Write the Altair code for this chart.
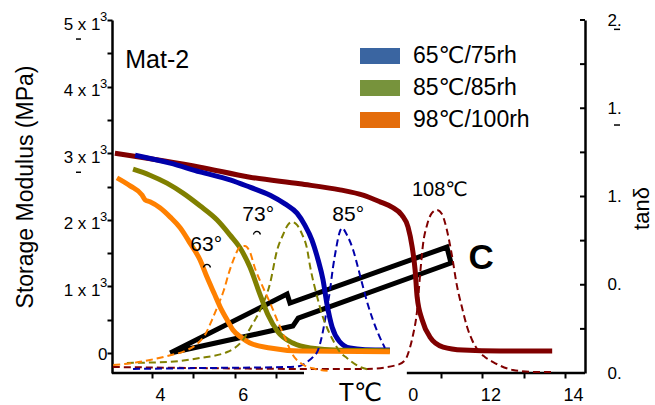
import altair as alt
import pandas as pd

# ---------------- data ----------------
# Storage modulus (MPa) vs temperature (solid curves, left axis)
maroon_T = [31.0, 51.6, 63.7, 75.8, 85.5, 91.1, 95.2, 98.1, 100.5, 102.0, 103.0, 103.7, 104.2, 105.4, 107.3, 110.5, 115.3, 124.3, 136.9]
maroon_E = [3000, 2790, 2640, 2540, 2450, 2370, 2270, 2190, 2070, 1890, 1590, 1250, 840, 500, 240, 90, 45, 30, 30]

blue_T = [35.9, 44.4, 51.6, 58.9, 63.7, 68.6, 72.2, 75.1, 77.0, 78.7, 80.2, 81.4, 82.4, 83.6, 85.5, 87.9, 91.6, 97.6]
blue_E = [2970, 2850, 2720, 2600, 2490, 2370, 2240, 2100, 1920, 1700, 1400, 1100, 720, 390, 165, 75, 50, 45]

olive_T = [35.4, 39.5, 43.6, 47.5, 51.6, 55.7, 58.9, 61.3, 63.7, 66.2, 68.1, 70.5, 74.1, 78.3, 85.5, 97.6]
olive_E = [2760, 2670, 2550, 2400, 2210, 2000, 1770, 1580, 1290, 870, 570, 315, 150, 75, 40, 35]

orange_T = [31.5, 34.7, 37.6, 38.3, 39.5, 41.9, 44.4, 46.8, 49.2, 51.6, 53.3, 55.0, 56.5, 58.2, 59.6, 61.8, 63.7, 68.6, 75.8, 97.6]
orange_E = [2630, 2510, 2370, 2300, 2270, 2180, 2040, 1880, 1650, 1400, 1140, 900, 690, 495, 345, 225, 150, 75, 30, 20]

# tan delta vs temperature (dashed curves, right axis)
orange_dT = [30.6, 35.4, 39.5, 43.6, 48.5, 50.9, 52.8, 54.5, 56.0, 57.4, 58.6, 59.9, 61.3, 62.5, 63.7, 64.9, 66.6, 68.6, 70.5, 72.2, 74.1, 76.3, 79.5, 83.1]
orange_tan = [0.045, 0.057, 0.074, 0.096, 0.130, 0.164, 0.215, 0.300, 0.385, 0.470, 0.567, 0.652, 0.714, 0.720, 0.686, 0.595, 0.499, 0.397, 0.289, 0.198, 0.102, 0.051, 0.023, 0.011]

olive_dT = [33.9, 43.6, 51.6, 58.2, 62.0, 64.2, 66.2, 68.6, 70.3, 71.7, 72.9, 73.9, 75.1, 76.3, 77.5, 78.3, 80.0, 81.2, 82.4, 83.8, 85.5, 87.2, 89.9, 92.8]
olive_tan = [0.057, 0.062, 0.085, 0.119, 0.187, 0.272, 0.357, 0.510, 0.697, 0.782, 0.839, 0.856, 0.839, 0.788, 0.708, 0.601, 0.431, 0.329, 0.255, 0.187, 0.119, 0.085, 0.040, 0.017]

blue_dT = [35.4, 51.6, 72.7, 75.8, 77.5, 79.0, 80.2, 81.2, 82.1, 83.1, 83.8, 84.6, 85.3, 86.0, 87.2, 88.7, 89.9, 91.1, 92.3, 93.5, 94.7, 96.4]
blue_tan = [0.023, 0.028, 0.034, 0.040, 0.062, 0.091, 0.130, 0.215, 0.329, 0.470, 0.595, 0.708, 0.788, 0.822, 0.782, 0.697, 0.595, 0.487, 0.385, 0.300, 0.227, 0.142]

maroon_dT = [30.5, 51.6, 75.8, 92.1, 99.3, 101.3, 102.5, 103.2, 104.2, 104.9, 105.6, 106.6, 107.8, 109.0, 110.2, 111.4, 112.6, 113.8, 115.1, 116.3, 117.5, 118.9, 120.6, 122.6, 127.4, 132.3, 137.1]
maroon_tan = [0.034, 0.028, 0.023, 0.023, 0.045, 0.074, 0.147, 0.215, 0.357, 0.555, 0.725, 0.839, 0.907, 0.924, 0.901, 0.810, 0.669, 0.499, 0.368, 0.261, 0.187, 0.130, 0.091, 0.062, 0.017, 0.006, 0.006]

# hollow "lightning" arrow outline (temperature, modulus units)
arrow_T = [44.4, 72.7, 73.4, 111.4, 112.4, 75.4, 74.1, 44.4]
arrow_E = [0, 886, 751, 1591, 1351, 525, 405, 0]

# legend
legend_labels = ["65℃/75rh", "85℃/85rh", "98℃/100rh"]

# peak labels
peak_texts = ["63°", "73°", "85°"]
peak_T = [53.1, 65.7, 87.5]
peak_E = [1622, 2072, 2072]

# axis ticks
x_tick_values = [40, 50, 60, 70, 100, 110, 120, 130, 140]
x_tick_labels = ["4", "", "6", "", "0", "", "12", "", "14"]
left_tick_values = [0, 500, 1000, 1500, 2000, 2500, 3000, 3500, 4000, 4500, 5000]
sup_values = [1000, 2000, 3000, 4000, 5000]
right_tick_values = [0, 0.25, 0.5, 0.75, 1.0, 1.25, 1.5, 1.75, 2.0]
right_label_values = [0, 0.5, 1.0, 1.5, 2.0]
x_segments = [(30.3, 76.8), (101.7, 144.85)]

# ---------------- styling ----------------
FONT = "Liberation Sans, Arial, Helvetica, DejaVu Sans, sans-serif"
W, H = 473, 353
MAROON, BLUE, OLIVE, ORANGE = "#800000", "#0000aa", "#808000", "#ff8000"
LEG_COLORS = ["#3a65a1", "#77933c", "#e46c0a"]

xscale = alt.Scale(domain=[30.3, 144.85], nice=False, zero=False)
yLscale = alt.Scale(domain=[-300, 5000], nice=False, zero=False)
yRscale = alt.Scale(domain=[0, 2], nice=False, zero=False)

x_expr = " : ".join(
    f"datum.value == {v} ? '{l}'" for v, l in zip(x_tick_values, x_tick_labels)
) + " : ''"

xaxis = alt.Axis(
    values=x_tick_values, domain=False, grid=False,
    tickSize=5, tickWidth=2, tickColor="black",
    tickOpacity={"condition": {"test": "datum.value == 100", "value": 0}, "value": 1},
    labelExpr=x_expr,
    labelOffset={"condition": {"test": "datum.value == 100", "value": 13}, "value": 8},
    labelFont=FONT, labelFontSize=18, labelColor="black", labelPadding=8,
    labelFlush=False, labelOverlap=False,
    title="T℃", titleFont=FONT, titleFontSize=25, titleFontWeight="normal",
    titleColor="black", titleX=248, titleY=19, titleBaseline="middle", titleAlign="center",
)

yLaxis = alt.Axis(
    orient="left", values=left_tick_values, grid=False,
    domain=True, domainColor="black", domainWidth=2.5,
    tickSize=5, tickWidth=2, tickColor="black",
    labelExpr="datum.value % 1000 == 0 ? (datum.value == 0 ? '0' : (datum.value / 1000) + ' x 1') : ''",
    labelBaseline="alphabetic",
    labelOffset={"condition": {"test": "datum.value == 0", "value": 6}, "value": 9},
    labelPadding={"condition": {"test": "datum.value == 0", "value": 0}, "value": 7},
    labelFont=FONT, labelFontSize=17, labelColor="black",
    labelFlush=False, labelOverlap=False,
    title="Storage Modulus (MPa)", titleFont=FONT, titleFontSize=23, titleFontWeight="normal",
    titleColor="black", titleX=-87, titleY=166.5, titleAngle=270,
    titleBaseline="middle", titleAlign="center",
)

yRaxis = alt.Axis(
    orient="right", values=right_label_values, grid=False,
    domain=True, domainColor="black", domainWidth=2.5, ticks=False,
    labelExpr="floor(datum.value) + '.'",
    labelFont=FONT, labelFontSize=17, labelColor="black", labelPadding=22,
    labelFlush=False, labelOverlap=False,
    title="tanδ", titleFont=FONT, titleFontSize=22, titleFontWeight="normal",
    titleColor="black", titleX=56, titleY=188, titleAngle=270,
    titleBaseline="middle", titleAlign="center",
)

X = alt.X("T:Q", scale=xscale, axis=xaxis)
YL = alt.Y("E:Q", scale=yLscale, axis=yLaxis)
YR = alt.Y("tan:Q", scale=yRscale, axis=yRaxis)

# ---------------- left (modulus) group ----------------
arrow_df = pd.DataFrame({"T": arrow_T, "E": arrow_E, "i": list(range(len(arrow_T)))})
arrow = alt.Chart(arrow_df).mark_line(
    color="black", strokeWidth=5, strokeJoin="miter", strokeMiterLimit=20
).encode(x=X, y=YL, order=alt.Order("i:Q"))

left_layers = [arrow]
for T, E, col in [(maroon_T, maroon_E, MAROON), (blue_T, blue_E, BLUE),
                  (olive_T, olive_E, OLIVE), (orange_T, orange_E, ORANGE)]:
    df = pd.DataFrame({"T": T, "E": E})
    left_layers.append(
        alt.Chart(df).mark_line(color=col, strokeWidth=5, interpolate="monotone",
                                strokeCap="butt").encode(x=X, y=YL)
    )

# x-axis line in two pieces (gap around the axis title)
seg_df = pd.DataFrame({"T": [s[0] for s in x_segments], "T2": [s[1] for s in x_segments]})
segs = alt.Chart(seg_df).mark_rule(color="black", strokeWidth=2.5).encode(
    x=X, x2="T2:Q", y=alt.value(H)
)
left_layers.append(segs)

# superscript "3" of the x10^3 labels
sup_df = pd.DataFrame({"E": sup_values})
sup = alt.Chart(sup_df).mark_text(
    text="3", font=FONT, fontSize=13, align="left", baseline="alphabetic", dy=1, color="black"
).encode(x=alt.value(-12), y=YL)
left_layers.append(sup)

# peak labels
peak_df = pd.DataFrame({"T": peak_T, "E": peak_E, "t": peak_texts})
left_layers.append(
    alt.Chart(peak_df).mark_text(font=FONT, fontSize=21, color="black", baseline="middle")
    .encode(x=X, y=YL, text="t:N")
)
# clipped tops of the "C" below two peak labels
arc_df = pd.DataFrame({"T": [53.3, 65.4], "E": [1321, 1817]})
left_layers.append(
    alt.Chart(arc_df).mark_point(
        shape="M-1,0.7C-0.7,-0.5 0.7,-0.5 1,0.7", filled=False, size=50,
        strokeWidth=1.3, color="black", opacity=1
    ).encode(x=X, y=YL)
)
ann = pd.DataFrame({"T": [109.7], "E": [2447], "t": ["108℃"]})
left_layers.append(
    alt.Chart(ann).mark_text(font=FONT, fontSize=20, color="black", baseline="middle")
    .encode(x=X, y=YL, text="t:N")
)
mat = pd.DataFrame({"T": [33.5], "E": [4279], "t": ["Mat-2"]})
left_layers.append(
    alt.Chart(mat).mark_text(font=FONT, fontSize=25, color="black", align="left", baseline="alphabetic")
    .encode(x=X, y=YL, text="t:N")
)
bigc = pd.DataFrame({"T": [119.7], "E": [1426], "t": ["C"]})
left_layers.append(
    alt.Chart(bigc).mark_text(font=FONT, fontSize=35, fontWeight="bold", color="black", baseline="middle")
    .encode(x=X, y=YL, text="t:N")
)
# small leftover dashes under some left tick labels
dash_df = pd.DataFrame({"E": [4714, 2714]})
left_layers.append(
    alt.Chart(dash_df).mark_rule(color="black", strokeWidth=1.5)
    .encode(x=alt.value(-36), x2=alt.value(-31), y=YL)
)

# legend
leg_df = pd.DataFrame({"lab": legend_labels})
legend_layer = alt.Chart(leg_df).mark_square(opacity=0).encode(
    color=alt.Color(
        "lab:N",
        scale=alt.Scale(domain=legend_labels, range=LEG_COLORS),
        legend=alt.Legend(
            orient="none", legendX=248, legendY=16, title=None, padding=0,
            symbolType="M-1,-0.4H1V0.4H-1Z", symbolSize=1600, symbolStrokeWidth=0,
            symbolOpacity=1, rowPadding=0, labelOffset=13,
            labelFont=FONT, labelFontSize=23, labelColor="black", labelLimit=300,
        ),
    )
)
left_layers.append(legend_layer)

left = alt.layer(*left_layers)

# ---------------- right (tan delta) group ----------------
right_layers = []
for T, v, col in [(maroon_dT, maroon_tan, MAROON), (blue_dT, blue_tan, BLUE),
                  (olive_dT, olive_tan, OLIVE), (orange_dT, orange_tan, ORANGE)]:
    df = pd.DataFrame({"T": T, "tan": v})
    right_layers.append(
        alt.Chart(df).mark_line(color=col, strokeWidth=2, strokeDash=[7, 4],
                                interpolate="monotone").encode(x=X, y=YR)
    )
rt_df = pd.DataFrame({"tan": right_tick_values})
right_layers.append(
    alt.Chart(rt_df).mark_rule(color="black", strokeWidth=2).encode(
        x=alt.value(W - 5), x2=alt.value(W), y=YR
    )
)
rdash = pd.DataFrame({"tan": [1.947, 1.405]})
right_layers.append(
    alt.Chart(rdash).mark_rule(color="black", strokeWidth=1.5)
    .encode(x=alt.value(502), x2=alt.value(508), y=YR)
)
right = alt.layer(*right_layers)

chart = (
    alt.layer(left, right)
    .resolve_scale(y="independent")
    .properties(
        width=W, height=H,
        padding={"left": 112, "top": 20, "right": 70, "bottom": 32},
        autosize=alt.AutoSizeParams(type="none"),
        background="white",
    )
    .configure_view(stroke=None)
)

chart.save("out.html", embed_options={"renderer": "svg", "actions": False})
